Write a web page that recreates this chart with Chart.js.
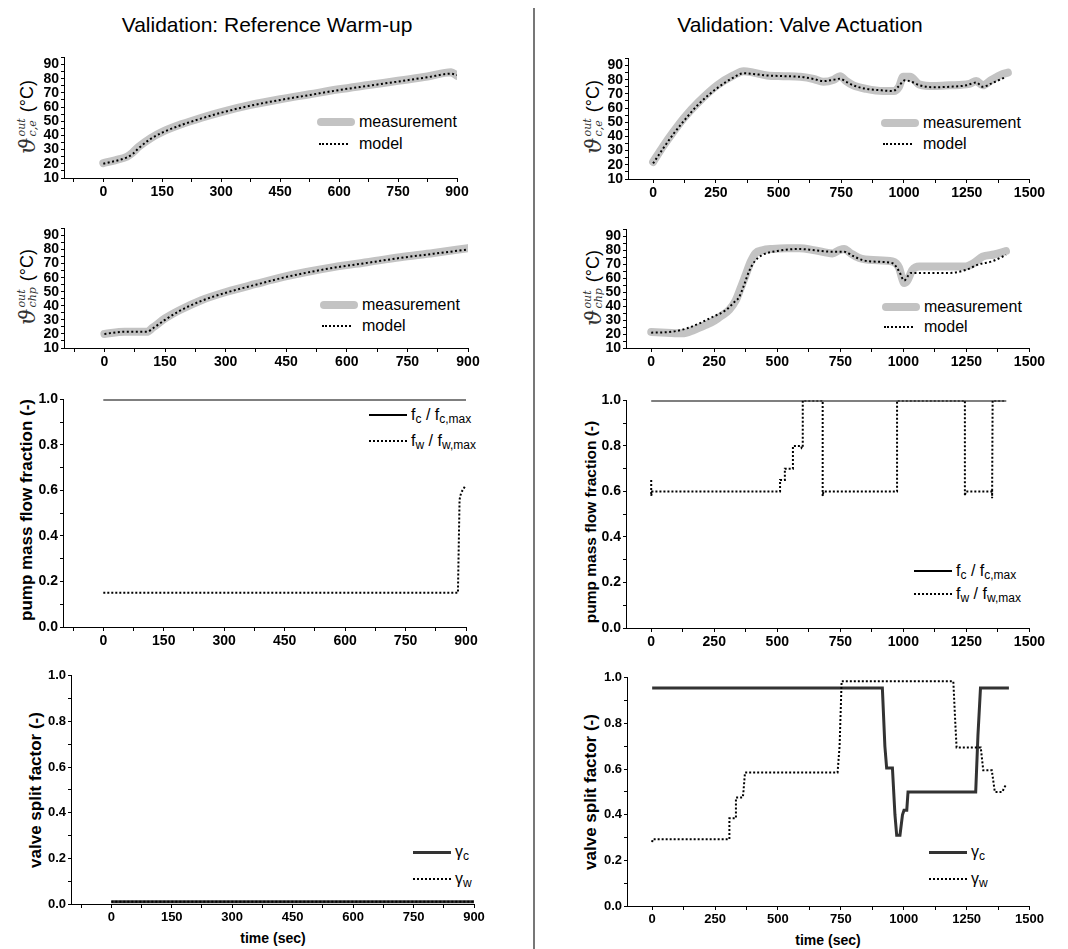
<!DOCTYPE html>
<html>
<head>
<meta charset="utf-8">
<script src="https://cdn.jsdelivr.net/npm/chart.js@4.4.0/dist/chart.umd.min.js"></script>
<style>
  body { margin: 0; background: #fff; }
  #page { position: relative; width: 1068px; height: 949px; overflow: hidden; font-family: "Liberation Sans", Arial, sans-serif; color: #000; }
  .ttl { position: absolute; top: 13px; font-size: 21px; line-height: 24px; transform: translateX(-50%); white-space: nowrap; }
  .divider { position: absolute; left: 533px; top: 8px; width: 2px; height: 941px; background: #777; }
  .yt { position: absolute; transform: translate(-50%, -50%) rotate(-90deg); white-space: nowrap; font-weight: bold; font-size: 17px; }
  .xt { position: absolute; transform: translate(-50%, -50%); white-space: nowrap; font-weight: bold; font-size: 14px; }
  .tl { position: absolute; transform: translate(-50%, -50%) rotate(-90deg); white-space: nowrap; display: flex; align-items: center; }
  .tl .th { font-family: "DejaVu Serif", serif; font-style: italic; font-size: 23px; color: #333; }
  .tl .ss { display: inline-flex; flex-direction: column; font-family: "DejaVu Serif", serif; font-style: italic; font-size: 11px; line-height: 11px; color: #333; margin-left: 1px; }
  .tl .u { font-size: 18px; margin-left: 6px; }
  .lg { position: absolute; display: flex; align-items: center; height: 20px; transform: translateY(-50%); font-size: 16px; white-space: nowrap; }
  .lg span { line-height: 20px; }
  .lg sub { font-size: 12px; position: relative; top: 0.3em; vertical-align: baseline; }
  .sw { display: inline-block; width: 38px; margin-right: 4px; }
  .sw.meas { height: 8px; border-radius: 4px; background: #c3c3c3; }
  .sw.dot { border-top: 2px dotted #000; }
  .sw.short { width: 29px; margin-left: 2px; margin-right: 11px; }
  .sw.solid { border-top: 2px solid #000; }
  .sw.thick { border-top: 3px solid #333; }
</style>
</head>
<body>
<div id="page">
  <div class="ttl" style="left:267px">Validation: Reference Warm-up</div>
  <div class="ttl" style="left:800px">Validation: Valve Actuation</div>
  <div class="divider"></div>

  <div class="tl" style="left:27px;top:117px"><span class="th">ϑ</span><span class="ss"><span>out</span><span>c,e</span></span><span class="u">(°C)</span></div>
  <div class="tl" style="left:27px;top:287px"><span class="th">ϑ</span><span class="ss"><span>out</span><span>chp</span></span><span class="u">(°C)</span></div>
  <div class="tl" style="left:593px;top:117px"><span class="th">ϑ</span><span class="ss"><span>out</span><span>c,e</span></span><span class="u">(°C)</span></div>
  <div class="tl" style="left:593px;top:288px"><span class="th">ϑ</span><span class="ss"><span>out</span><span>chp</span></span><span class="u">(°C)</span></div>

  <div class="yt" style="left:27px;top:510px">pump mass flow fraction (-)</div>
  <div class="yt" style="left:591px;top:522px;font-size:15.5px">pump mass flow fraction (-)</div>
  <div class="yt" style="left:36px;top:790px">valve split factor (-)</div>
  <div class="yt" style="left:591px;top:792px">valve split factor (-)</div>

  <div class="xt" style="left:273px;top:938px">time (sec)</div>
  <div class="xt" style="left:828px;top:940px">time (sec)</div>

  <div class="lg" style="left:317px;top:122px"><i class="sw meas"></i><span>measurement</span></div>
  <div class="lg" style="left:317px;top:144px"><i class="sw dot short"></i><span>model</span></div>
  <div class="lg" style="left:320px;top:305px"><i class="sw meas"></i><span>measurement</span></div>
  <div class="lg" style="left:320px;top:326px"><i class="sw dot short"></i><span>model</span></div>
  <div class="lg" style="left:881px;top:123px"><i class="sw meas"></i><span>measurement</span></div>
  <div class="lg" style="left:881px;top:144px"><i class="sw dot short"></i><span>model</span></div>
  <div class="lg" style="left:882px;top:307px"><i class="sw meas"></i><span>measurement</span></div>
  <div class="lg" style="left:882px;top:327px"><i class="sw dot short"></i><span>model</span></div>

  <div class="lg" style="left:369px;top:415px"><i class="sw solid"></i><span>f<sub>c</sub> / f<sub>c,max</sub></span></div>
  <div class="lg" style="left:369px;top:441px"><i class="sw dot"></i><span>f<sub>w</sub> / f<sub>w,max</sub></span></div>
  <div class="lg" style="left:914px;top:571px"><i class="sw solid"></i><span>f<sub>c</sub> / f<sub>c,max</sub></span></div>
  <div class="lg" style="left:914px;top:594px"><i class="sw dot"></i><span>f<sub>w</sub> / f<sub>w,max</sub></span></div>

  <div class="lg" style="left:413px;top:852px"><i class="sw thick"></i><span>γ<sub>c</sub></span></div>
  <div class="lg" style="left:413px;top:879px"><i class="sw dot"></i><span>γ<sub>w</sub></span></div>
  <div class="lg" style="left:929px;top:852px"><i class="sw thick"></i><span>γ<sub>c</sub></span></div>
  <div class="lg" style="left:929px;top:879px"><i class="sw dot"></i><span>γ<sub>w</sub></span></div>
</div>

<script>
// tick positions
const warmTicksX = [-75, 0, 75, 150, 225, 300, 375, 450, 525, 600, 675, 750, 825, 900];
const actTicksX = [0, 125, 250, 375, 500, 625, 750, 875, 1000, 1125, 1250, 1375, 1500];
const tempTicksY = [10, 15, 20, 25, 30, 35, 40, 45, 50, 55, 60, 65, 70, 75, 80, 85, 90, 95];
const fracTicksY = [0, 0.1, 0.2, 0.3, 0.4, 0.5, 0.6, 0.7, 0.8, 0.9, 1.0];

// reference warm-up: coolant outlet temperature
const warmCeMeasT = [0, 30, 60, 75, 90, 120, 150, 200, 250, 300, 375, 450, 525, 600, 675, 750, 825, 885, 900];
const warmCeMeasY = [20.5, 22.5, 25, 28, 32, 38, 42.5, 48, 52.5, 56.5, 61.5, 65.5, 69, 72.5, 75.5, 78.5, 81.5, 84.5, 82];
const warmCeModelT = [0, 60, 75, 90, 120, 150, 200, 250, 300, 375, 450, 525, 600, 675, 750, 825, 885, 900];
const warmCeModelY = [20, 24.5, 27, 31, 37.5, 42, 47.5, 52, 56, 61, 65, 68.5, 72, 75, 78, 81, 83.5, 82.5];

// reference warm-up: chp outlet temperature
const warmChpMeasT = [0, 50, 105, 120, 150, 187, 240, 303, 375, 443, 500, 567, 650, 732, 815, 900];
const warmChpMeasY = [20, 21.5, 21.5, 24.5, 31, 37, 44, 50, 55.5, 60.5, 64, 67.5, 71, 74.5, 77.5, 81];
const warmChpModelT = [0, 50, 105, 120, 150, 187, 240, 303, 375, 443, 500, 567, 650, 732, 815, 900];
const warmChpModelY = [20, 21.5, 21.5, 24, 30, 36.5, 43.5, 49.5, 55, 60, 63.5, 67, 70.5, 74, 77, 80];

// reference warm-up: pumps and valves
const warmFcT = [0, 900];
const warmFcY = [1, 1];
const warmFwT = [0, 880, 884, 888, 898];
const warmFwY = [0.15, 0.15, 0.56, 0.59, 0.62];
const warmGcT = [0, 900];
const warmGcY = [0.01, 0.01];
const warmGwT = [0, 900];
const warmGwY = [0.01, 0.01];

// valve actuation: coolant outlet temperature
const actCeMeasT = [0, 40, 80, 123, 180, 255, 320, 361, 400, 454, 520, 587, 640, 679, 720, 745, 770, 798, 850, 917, 960, 980, 997, 1024, 1063, 1120, 1182, 1260, 1288, 1314, 1350, 1394, 1414];
const actCeMeasY = [22, 33, 43, 53, 64, 76, 83, 86, 85, 83, 82.5, 82, 80.5, 78.5, 80, 82.5, 79, 76, 73.5, 72, 72, 75, 82, 82, 76.5, 75.5, 76, 77, 79, 76, 80, 84, 85];
const actCeModelT = [0, 40, 80, 123, 180, 255, 320, 361, 400, 454, 520, 587, 640, 679, 720, 745, 770, 798, 851, 910, 957, 977, 1004, 1030, 1063, 1116, 1182, 1248, 1288, 1314, 1350, 1407];
const actCeModelY = [21, 31.5, 41.5, 51, 62.5, 74, 81.5, 84.6, 84, 83, 82.5, 82, 80.5, 79, 80, 80.7, 78.5, 76, 73.5, 72.5, 72, 75, 79.6, 78.5, 76, 74.7, 75, 76, 78, 75, 77.5, 82];

// valve actuation: chp outlet temperature
const actChpMeasT = [0, 60, 123, 170, 216, 250, 282, 310, 335, 355, 375, 395, 414, 440, 481, 540, 587, 650, 719, 745, 765, 790, 825, 880, 957, 983, 995, 1003, 1015, 1036, 1063, 1150, 1248, 1280, 1314, 1360, 1407];
const actChpMeasY = [21.5, 21, 20.5, 23, 26.5, 29.5, 33.5, 37.5, 44, 53, 62.5, 72, 78, 80, 81, 81.5, 81.5, 80, 77.8, 80, 81, 78, 74.5, 73, 72, 67.5, 60, 56.5, 58, 66, 68.5, 68.5, 68.5, 71, 75.5, 77, 79.5];
const actChpModelT = [0, 83, 140, 189, 240, 295, 330, 348, 370, 388, 410, 441, 500, 587, 650, 719, 765, 800, 838, 900, 957, 983, 1003, 1020, 1030, 1100, 1182, 1248, 1300, 1350, 1407];
const actChpModelY = [21, 21.7, 24, 27.5, 32, 37, 43, 46.3, 56, 65, 72, 76.7, 79.5, 81, 80, 79, 79, 76, 73, 71.8, 70.8, 65, 58.4, 62, 63.8, 63.8, 63.8, 66, 70, 72, 76.7];

// valve actuation: pumps
const actFcT = [0, 1408];
const actFcY = [1, 1];
const actFwT = [0, 0, 3, 511, 511, 530, 530, 562, 562, 595, 597, 601, 601, 680, 680, 683, 975, 975, 1244, 1244, 1247, 1352, 1352, 1354, 1408];
const actFwY = [0.65, 0.58, 0.6, 0.6, 0.65, 0.65, 0.7, 0.7, 0.8, 0.8, 0.79, 0.79, 1.0, 1.0, 0.58, 0.6, 0.6, 1.0, 1.0, 0.58, 0.6, 0.6, 0.57, 1.0, 1.0];

// valve actuation: split factors
const actGcT = [0, 915, 925, 932, 955, 965, 972, 985, 995, 1001, 1012, 1017, 1286, 1295, 1305, 1418];
const actGcY = [0.955, 0.955, 0.7, 0.605, 0.605, 0.4, 0.31, 0.31, 0.4, 0.42, 0.42, 0.5, 0.5, 0.75, 0.955, 0.955];
const actGwT = [0, 2, 307, 307, 333, 333, 360, 362, 369, 737, 745, 753, 1197, 1205, 1210, 1306, 1316, 1350, 1362, 1392, 1400, 1409];
const actGwY = [0.28, 0.293, 0.293, 0.385, 0.385, 0.475, 0.475, 0.49, 0.585, 0.585, 0.7, 0.985, 0.985, 0.8, 0.695, 0.695, 0.595, 0.595, 0.5, 0.5, 0.52, 0.535];

const YW = 42, XH = 22, PAD_T = 8, PAD_R = 16;
const fontFamily = '"Liberation Sans", Arial, sans-serif';

const pts = (xs, ys) => xs.map((x, i) => ({ x, y: ys[i] }));
const isStep = (v, step) => Math.abs(v / step - Math.round(v / step)) < 1e-6;

const measSet = (xs, ys) => ({ data: pts(xs, ys), borderColor: '#c3c3c3', borderWidth: 8, borderCapStyle: 'round', borderJoinStyle: 'round', cubicInterpolationMode: 'monotone', order: 2 });
const modelSet = (xs, ys) => ({ data: pts(xs, ys), borderColor: '#000', borderWidth: 2, borderDash: [2, 2.5], cubicInterpolationMode: 'monotone', order: 1 });
const solidSet = (xs, ys, w, c) => ({ data: pts(xs, ys), borderColor: c, borderWidth: w, order: 2 });
const dotSet = (xs, ys) => ({ data: pts(xs, ys), borderColor: '#000', borderWidth: 2, borderDash: [2, 2], order: 1 });

function makePanel(box, cfg) {
  const canvas = document.createElement('canvas');
  const w = YW + box.r - box.l + PAD_R;
  const h = PAD_T + box.b - box.t + XH;
  canvas.width = w;
  canvas.height = h;
  canvas.style.cssText = `position:absolute;left:${box.l - YW}px;top:${box.t - PAD_T}px;width:${w}px;height:${h}px`;
  document.getElementById('page').appendChild(canvas);

  const tickFont = { family: fontFamily, weight: 'bold', size: cfg.fontSize || 14 };

  new Chart(canvas, {
    type: 'line',
    data: { datasets: cfg.datasets },
    options: {
      responsive: false,
      animation: false,
      events: [],
      layout: { padding: { top: PAD_T, right: PAD_R, left: 0, bottom: 0 } },
      plugins: { legend: { display: false }, tooltip: { enabled: false } },
      elements: { point: { radius: 0 }, line: { tension: 0 } },
      scales: {
        x: {
          type: 'linear', min: -100, max: cfg.xMax,
          afterBuildTicks: s => { s.ticks = cfg.xTicks.map(v => ({ value: v })); },
          afterFit: s => { s.height = XH; },
          ticks: { autoSkip: false, maxRotation: 0, padding: 2, color: '#000', font: tickFont,
                   callback: v => (v >= 0 && isStep(v, cfg.xStep)) ? String(v) : '' },
          grid: { drawOnChartArea: false, tickLength: 4, color: '#000' },
          border: { color: '#000', width: 1 }
        },
        y: {
          min: cfg.yMin, max: cfg.yMax,
          afterBuildTicks: s => { s.ticks = cfg.yTicks.map(v => ({ value: v })); },
          afterFit: s => { s.width = YW; },
          ticks: { autoSkip: false, padding: 2, color: '#000', font: tickFont,
                   callback: v => isStep(v - cfg.yMin, cfg.yStep) ? v.toFixed(cfg.yDigits) : '' },
          grid: { drawOnChartArea: false, tickLength: 3, color: '#000' },
          border: { color: '#000', width: 1 }
        }
      }
    }
  });
}

const warmX = { xTicks: warmTicksX, xStep: 150, xMax: 900 };
const actX = { xTicks: actTicksX, xStep: 250, xMax: 1500 };
const tempY = { yTicks: tempTicksY, yStep: 10, yMin: 10, yMax: 95, yDigits: 0 };
const fracY = { yTicks: fracTicksY, yStep: 0.2, yMin: 0, yMax: 1, yDigits: 1 };

makePanel({ l: 64, r: 457, t: 55, b: 178 }, { ...warmX, ...tempY,
  datasets: [modelSet(warmCeModelT, warmCeModelY), measSet(warmCeMeasT, warmCeMeasY)] });
makePanel({ l: 64, r: 468, t: 226, b: 348 }, { ...warmX, ...tempY,
  datasets: [modelSet(warmChpModelT, warmChpModelY), measSet(warmChpMeasT, warmChpMeasY)] });
makePanel({ l: 63, r: 466, t: 397, b: 627 }, { ...warmX, ...fracY,
  datasets: [dotSet(warmFwT, warmFwY), solidSet(warmFcT, warmFcY, 2, '#000')] });
makePanel({ l: 71, r: 474, t: 674, b: 904 }, { ...warmX, ...fracY, fontSize: 13,
  datasets: [dotSet(warmGwT, warmGwY), solidSet(warmGcT, warmGcY, 3, '#333')] });

makePanel({ l: 628, r: 1031, t: 56, b: 179 }, { ...actX, ...tempY,
  datasets: [modelSet(actCeModelT, actCeModelY), measSet(actCeMeasT, actCeMeasY)] });
makePanel({ l: 626, r: 1031, t: 227, b: 348 }, { ...actX, ...tempY,
  datasets: [modelSet(actChpModelT, actChpModelY), measSet(actChpMeasT, actChpMeasY)] });
makePanel({ l: 626, r: 1031, t: 398, b: 628 }, { ...actX, ...fracY,
  datasets: [dotSet(actFwT, actFwY), solidSet(actFcT, actFcY, 2, '#000')] });
makePanel({ l: 627, r: 1030, t: 676, b: 906 }, { ...actX, ...fracY, fontSize: 13,
  datasets: [dotSet(actGwT, actGwY), solidSet(actGcT, actGcY, 3, '#333')] });
</script>
</body>
</html>
